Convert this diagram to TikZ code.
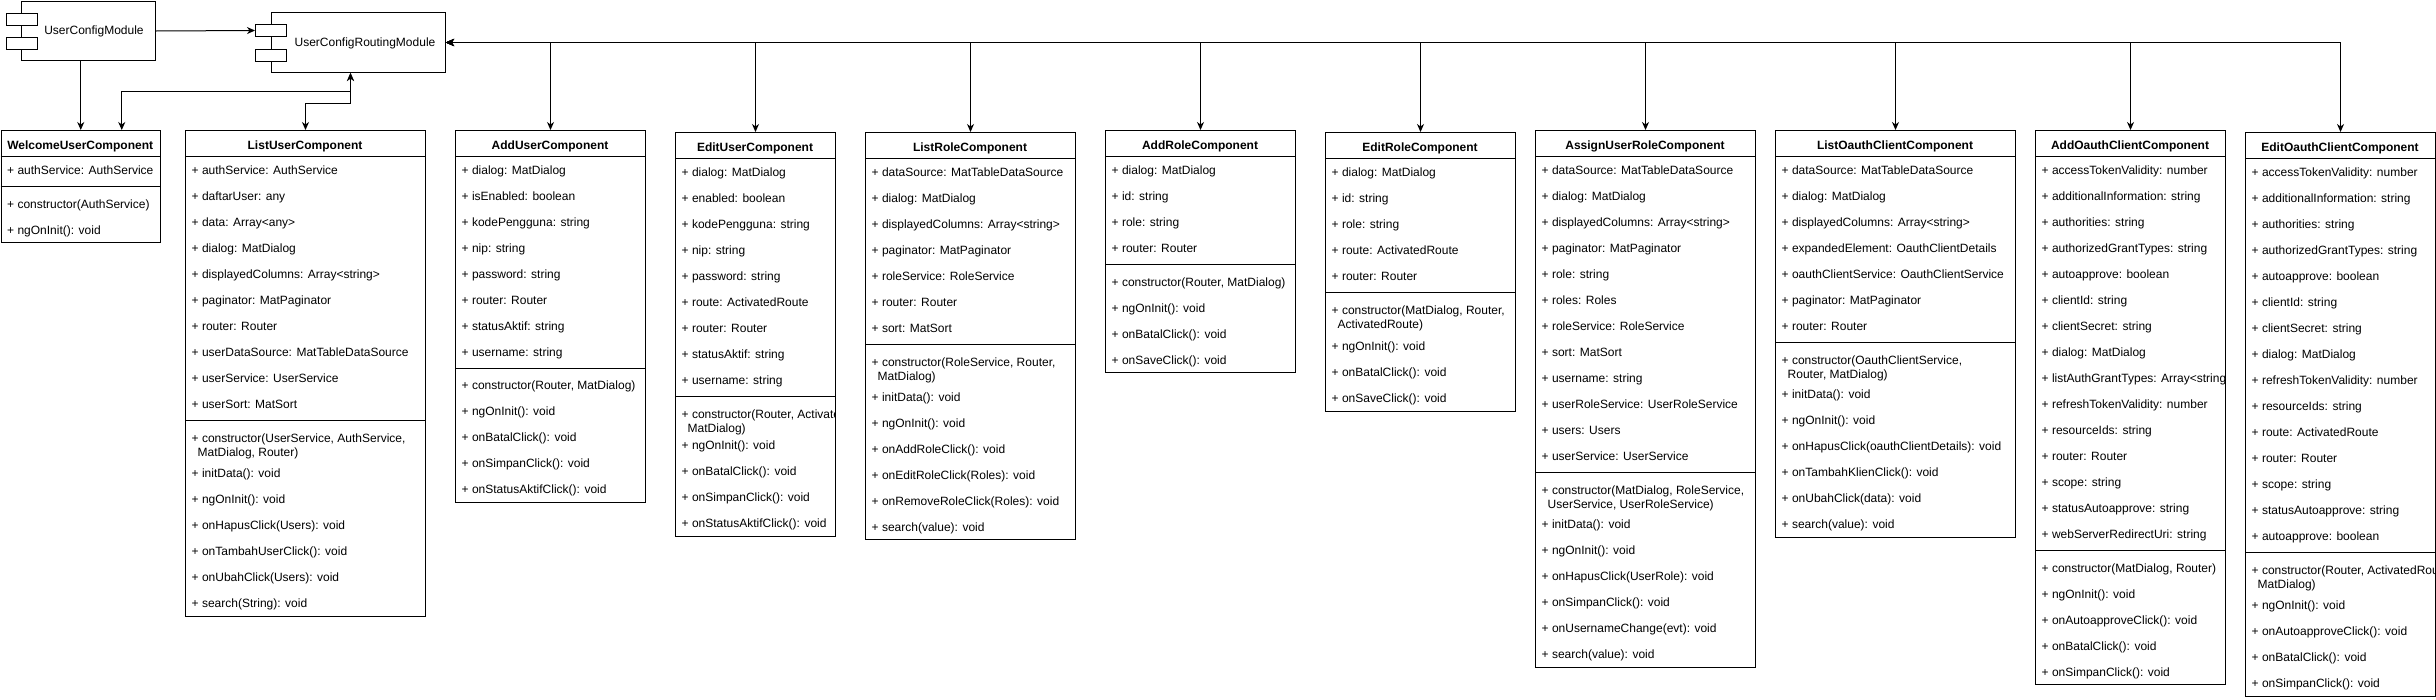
\documentclass[tikz,border=0pt]{standalone}
\usepackage{fontspec}
\setmainfont{Liberation Sans}
\usetikzlibrary{arrows.meta,calc}
\tikzset{
  cbox/.style={draw=black, line width=1pt, inner sep=0pt, fill=white},
  cline/.style={draw=black, line width=1pt},
  ctitle/.style={anchor=base, inner sep=0pt, font=\fontsize{12}{14}\selectfont\bfseries},
  crow/.style={anchor=base west, inner sep=0pt, font=\fontsize{12}{14}\selectfont},
  mbody/.style={draw=black, line width=1pt, inner sep=0pt, fill=white},
  msmall/.style={draw=black, line width=1pt, inner sep=0pt, fill=white, minimum width=31pt, minimum height=12pt, anchor=north west},
  mtext/.style={anchor=base, inner sep=0pt, font=\fontsize{12}{14}\selectfont},
  arr/.style={line width=1pt, -{Stealth[length=8pt,width=7pt,inset=2.5pt]}},
  arrtwo/.style={line width=1pt, {Stealth[length=8pt,width=7pt,inset=2.5pt]}-{Stealth[length=8pt,width=7pt,inset=2.5pt]}},
}
% name, x, top, width, bottom, header bottom, separator, title
\newcommand{\umlclass}[8]{%
  \node[cbox, minimum width=#4, minimum height={#5-#3}, anchor=north west] (#1) at (#2,-#3) {};
  \node[ctitle] (#1t) at ({#2+#4/2},{-(#3+19)}) {#8};
  \draw[cline] (#2,-#6) -- ({#2+#4},-#6);
  \draw[cline] (#2,-#7) -- ({#2+#4},-#7);
}
% prefix, box, x, first row centre, list
\newcommand{\crows}[5]{%
  \begin{scope}
    \clip (#2.north west) rectangle ([xshift=-2pt]#2.south east);
    \foreach \t [count=\i] in {#5}
      \node[crow] (#1\i) at ({#3+6.5},{-(#4+4.3+26*(\i-1))}) {\t};
  \end{scope}}
% prefix, box, x, first line centre, line1, line2
\newcommand{\ctwo}[6]{%
  \begin{scope}
    \clip (#2.north west) rectangle ([xshift=-2pt]#2.south east);
    \node[crow] (#1a) at ({#3+6.5},{-(#4+4.3)}) {#5};
    \node[crow] (#1b) at ({#3+12.5},{-(#4+18.3)}) {#6};
  \end{scope}}
\begin{document}
\begin{tikzpicture}[x=1pt,y=1pt]
\useasboundingbox (0,0) rectangle (2436,-699);

% modules
\node[mbody, minimum width=134pt, minimum height=59pt, anchor=north west] (um) at (21,-1) {};
\node[msmall] (ump1) at (6,-12.5) {};
\node[msmall] (ump2) at (6,-37) {};
\node[mtext] (umt) at (94,-34.3) {UserConfigModule};

\node[mbody, minimum width=174pt, minimum height=60pt, anchor=north west] (rm) at (271,-12) {};
\node[msmall] (rmp1) at (255,-24) {};
\node[msmall] (rmp2) at (255,-49) {};
\node[mtext] (rmt) at (365,-46.3) {UserConfigRoutingModule};

% classes
\umlclass{welcome}{0.5}{130}{159.5}{242}{156}{186}{WelcomeUserComponent}
\crows{welcomea}{welcome}{0.5}{170}{{+ authService: AuthService}}
\crows{welcomem}{welcome}{0.5}{204}{{+ constructor(AuthService)},{+ ngOnInit(): void}}

\umlclass{listuser}{185}{130}{240}{616}{156}{420}{ListUserComponent}
\crows{listusera}{listuser}{185}{170}{{+ authService: AuthService},{+ daftarUser: any},{+ data: Array<any>},{+ dialog: MatDialog},{+ displayedColumns: Array<string>},{+ paginator: MatPaginator},{+ router: Router},{+ userDataSource: MatTableDataSource},{+ userService: UserService},{+ userSort: MatSort}}
\ctwo{listuserc}{listuser}{185}{438}{+ constructor(UserService, AuthService,}{MatDialog, Router)}
\crows{listuserm}{listuser}{185}{473}{{+ initData(): void},{+ ngOnInit(): void},{+ onHapusClick(Users): void},{+ onTambahUserClick(): void},{+ onUbahClick(Users): void},{+ search(String): void}}

\umlclass{adduser}{455}{130}{190}{502}{156}{368}{AddUserComponent}
\crows{addusera}{adduser}{455}{170}{{+ dialog: MatDialog},{+ isEnabled: boolean},{+ kodePengguna: string},{+ nip: string},{+ password: string},{+ router: Router},{+ statusAktif: string},{+ username: string}}
\crows{adduserm}{adduser}{455}{385}{{+ constructor(Router, MatDialog)},{+ ngOnInit(): void},{+ onBatalClick(): void},{+ onSimpanClick(): void},{+ onStatusAktifClick(): void}}

\umlclass{edituser}{675}{132}{160}{536}{158}{396}{EditUserComponent}
\crows{editusera}{edituser}{675}{172}{{+ dialog: MatDialog},{+ enabled: boolean},{+ kodePengguna: string},{+ nip: string},{+ password: string},{+ route: ActivatedRoute},{+ router: Router},{+ statusAktif: string},{+ username: string}}
\ctwo{edituserc}{edituser}{675}{414}{+ constructor(Router, ActivatedRoute,}{MatDialog)}
\crows{edituserm}{edituser}{675}{445}{{+ ngOnInit(): void},{+ onBatalClick(): void},{+ onSimpanClick(): void},{+ onStatusAktifClick(): void}}

\umlclass{listrole}{865}{132}{210}{539}{158}{344}{ListRoleComponent}
\crows{listrolea}{listrole}{865}{172}{{+ dataSource: MatTableDataSource},{+ dialog: MatDialog},{+ displayedColumns: Array<string>},{+ paginator: MatPaginator},{+ roleService: RoleService},{+ router: Router},{+ sort: MatSort}}
\ctwo{listrolec}{listrole}{865}{362}{+ constructor(RoleService, Router,}{MatDialog)}
\crows{listrolem}{listrole}{865}{397}{{+ initData(): void},{+ ngOnInit(): void},{+ onAddRoleClick(): void},{+ onEditRoleClick(Roles): void},{+ onRemoveRoleClick(Roles): void},{+ search(value): void}}

\umlclass{addrole}{1105}{130}{190}{372}{156}{264}{AddRoleComponent}
\crows{addrolea}{addrole}{1105}{170}{{+ dialog: MatDialog},{+ id: string},{+ role: string},{+ router: Router}}
\crows{addrolem}{addrole}{1105}{282}{{+ constructor(Router, MatDialog)},{+ ngOnInit(): void},{+ onBatalClick(): void},{+ onSaveClick(): void}}

\umlclass{editrole}{1325}{132}{190}{411}{158}{292}{EditRoleComponent}
\crows{editrolea}{editrole}{1325}{172}{{+ dialog: MatDialog},{+ id: string},{+ role: string},{+ route: ActivatedRoute},{+ router: Router}}
\ctwo{editrolec}{editrole}{1325}{310}{+ constructor(MatDialog, Router,}{ActivatedRoute)}
\crows{editrolem}{editrole}{1325}{346}{{+ ngOnInit(): void},{+ onBatalClick(): void},{+ onSaveClick(): void}}

\umlclass{assign}{1535}{130}{220}{667}{156}{472}{AssignUserRoleComponent}
\crows{assigna}{assign}{1535}{170}{{+ dataSource: MatTableDataSource},{+ dialog: MatDialog},{+ displayedColumns: Array<string>},{+ paginator: MatPaginator},{+ role: string},{+ roles: Roles},{+ roleService: RoleService},{+ sort: MatSort},{+ username: string},{+ userRoleService: UserRoleService},{+ users: Users},{+ userService: UserService}}
\ctwo{assignc}{assign}{1535}{490}{+ constructor(MatDialog, RoleService,}{UserService, UserRoleService)}
\crows{assignm}{assign}{1535}{524}{{+ initData(): void},{+ ngOnInit(): void},{+ onHapusClick(UserRole): void},{+ onSimpanClick(): void},{+ onUsernameChange(evt): void},{+ search(value): void}}

\umlclass{listoauth}{1775}{130}{240}{537}{156}{342}{ListOauthClientComponent}
\crows{listoautha}{listoauth}{1775}{170}{{+ dataSource: MatTableDataSource},{+ dialog: MatDialog},{+ displayedColumns: Array<string>},{+ expandedElement: OauthClientDetails},{+ oauthClientService: OauthClientService},{+ paginator: MatPaginator},{+ router: Router}}
\ctwo{listoauthc}{listoauth}{1775}{360}{+ constructor(OauthClientService,}{Router, MatDialog)}
\crows{listoauthm}{listoauth}{1775}{394}{{+ initData(): void},{+ ngOnInit(): void},{+ onHapusClick(oauthClientDetails): void},{+ onTambahKlienClick(): void},{+ onUbahClick(data): void},{+ search(value): void}}

\umlclass{addoauth}{2035}{130}{190}{684}{156}{550}{AddOauthClientComponent}
\crows{addoautha}{addoauth}{2035}{170}{{+ accessTokenValidity: number},{+ additionalInformation: string},{+ authorities: string},{+ authorizedGrantTypes: string},{+ autoapprove: boolean},{+ clientId: string},{+ clientSecret: string},{+ dialog: MatDialog},{+ listAuthGrantTypes: Array<string>},{+ refreshTokenValidity: number},{+ resourceIds: string},{+ router: Router},{+ scope: string},{+ statusAutoapprove: string},{+ webServerRedirectUri: string}}
\crows{addoauthm}{addoauth}{2035}{568}{{+ constructor(MatDialog, Router)},{+ ngOnInit(): void},{+ onAutoapproveClick(): void},{+ onBatalClick(): void},{+ onSimpanClick(): void}}

\umlclass{editoauth}{2245}{132}{190}{696}{158}{552}{EditOauthClientComponent}
\crows{editoautha}{editoauth}{2245}{172}{{+ accessTokenValidity: number},{+ additionalInformation: string},{+ authorities: string},{+ authorizedGrantTypes: string},{+ autoapprove: boolean},{+ clientId: string},{+ clientSecret: string},{+ dialog: MatDialog},{+ refreshTokenValidity: number},{+ resourceIds: string},{+ route: ActivatedRoute},{+ router: Router},{+ scope: string},{+ statusAutoapprove: string},{+ autoapprove: boolean}}
\ctwo{editoauthc}{editoauth}{2245}{570}{+ constructor(Router, ActivatedRoute,}{MatDialog)}
\crows{editoauthm}{editoauth}{2245}{605}{{+ ngOnInit(): void},{+ onAutoapproveClick(): void},{+ onBatalClick(): void},{+ onSimpanClick(): void}}

% connectors
\draw[arr] (um.east) -- (rmp1.west);
\draw[arr] (welcome.north |- um.south) -- (welcome.north);
\draw[arrtwo] ([xshift=-8pt]rm.south) -- ++(0,-18) -| ([xshift=41pt]welcome.north);
\draw[arrtwo] ([xshift=-8pt]rm.south) -- ++(0,-30) -| (listuser.north);
\foreach \c in {adduser,edituser,listrole,addrole,editrole,assign,listoauth,addoauth,editoauth}
  \draw[arrtwo] (rm.east) -| (\c.north);
\end{tikzpicture}
\end{document}
